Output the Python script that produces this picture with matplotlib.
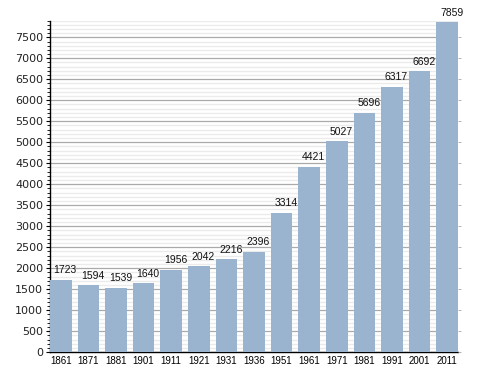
import matplotlib.pyplot as plt
from matplotlib.ticker import MultipleLocator

plt.rcParams['font.family'] = ['Liberation Sans', 'DejaVu Sans']

# données
years = ['1861', '1871', '1881', '1901', '1911', '1921', '1931', '1936',
         '1951', '1961', '1971', '1981', '1991', '2001', '2011']
population = [1723, 1594, 1539, 1640, 1956, 2042, 2216, 2396,
              3314, 4421, 5027, 5696, 6317, 6692, 7859]

bar_color = '#9ab4d0'

fig = plt.figure(figsize=(4.88, 3.73), dpi=100)
ax = fig.add_axes([0.1025, 0.056, 0.836, 0.889])

x = list(range(len(years)))
bars = ax.bar(x, population, width=0.78, color=bar_color, zorder=3)

# étiquettes un peu décalées à droite comme dans l'original
for xi, v in zip(x, population):
    ax.annotate(str(v), (xi, v), xytext=(3.2, 3.3), textcoords='offset points',
                ha='center', va='bottom', fontsize=7.5, color='#111111')

ax.set_xlim(-0.39, len(years) - 1 + 0.39)
ax.set_ylim(0, 7900)
ax.set_xticks(x)
ax.set_xticklabels(years)
ax.yaxis.set_major_locator(MultipleLocator(500))
ax.yaxis.set_minor_locator(MultipleLocator(100))
for lab in ax.get_yticklabels():
    lab.set_fontfamily('DejaVu Sans')

ax.grid(axis='y', which='major', color='#aaaaaa', linewidth=0.9, zorder=0)
ax.grid(axis='y', which='minor', color='#ebebeb', linewidth=1.0, zorder=0)
ax.set_axisbelow(True)

for s in ['top', 'right']:
    ax.spines[s].set_visible(False)
ax.spines['left'].set_linewidth(1.0)
ax.spines['bottom'].set_linewidth(1.0)

ax.tick_params(axis='y', which='major', length=3, width=0.8, labelsize=8,
               direction='out', pad=2, labelcolor='#222222')
ax.tick_params(axis='y', which='minor', length=2.5, width=0.6)
ax.tick_params(axis='x', length=0, labelsize=7, pad=3)

# petits repères à droite
ax2 = ax.twinx()
ax2.set_ylim(ax.get_ylim())
ax2.yaxis.set_major_locator(MultipleLocator(500))
ax2.tick_params(axis='y', length=2.5, width=0.6, color='#aaaaaa', labelright=False)
for s in ['top', 'right', 'left', 'bottom']:
    ax2.spines[s].set_visible(False)

fig.savefig('out.png', dpi=100)
